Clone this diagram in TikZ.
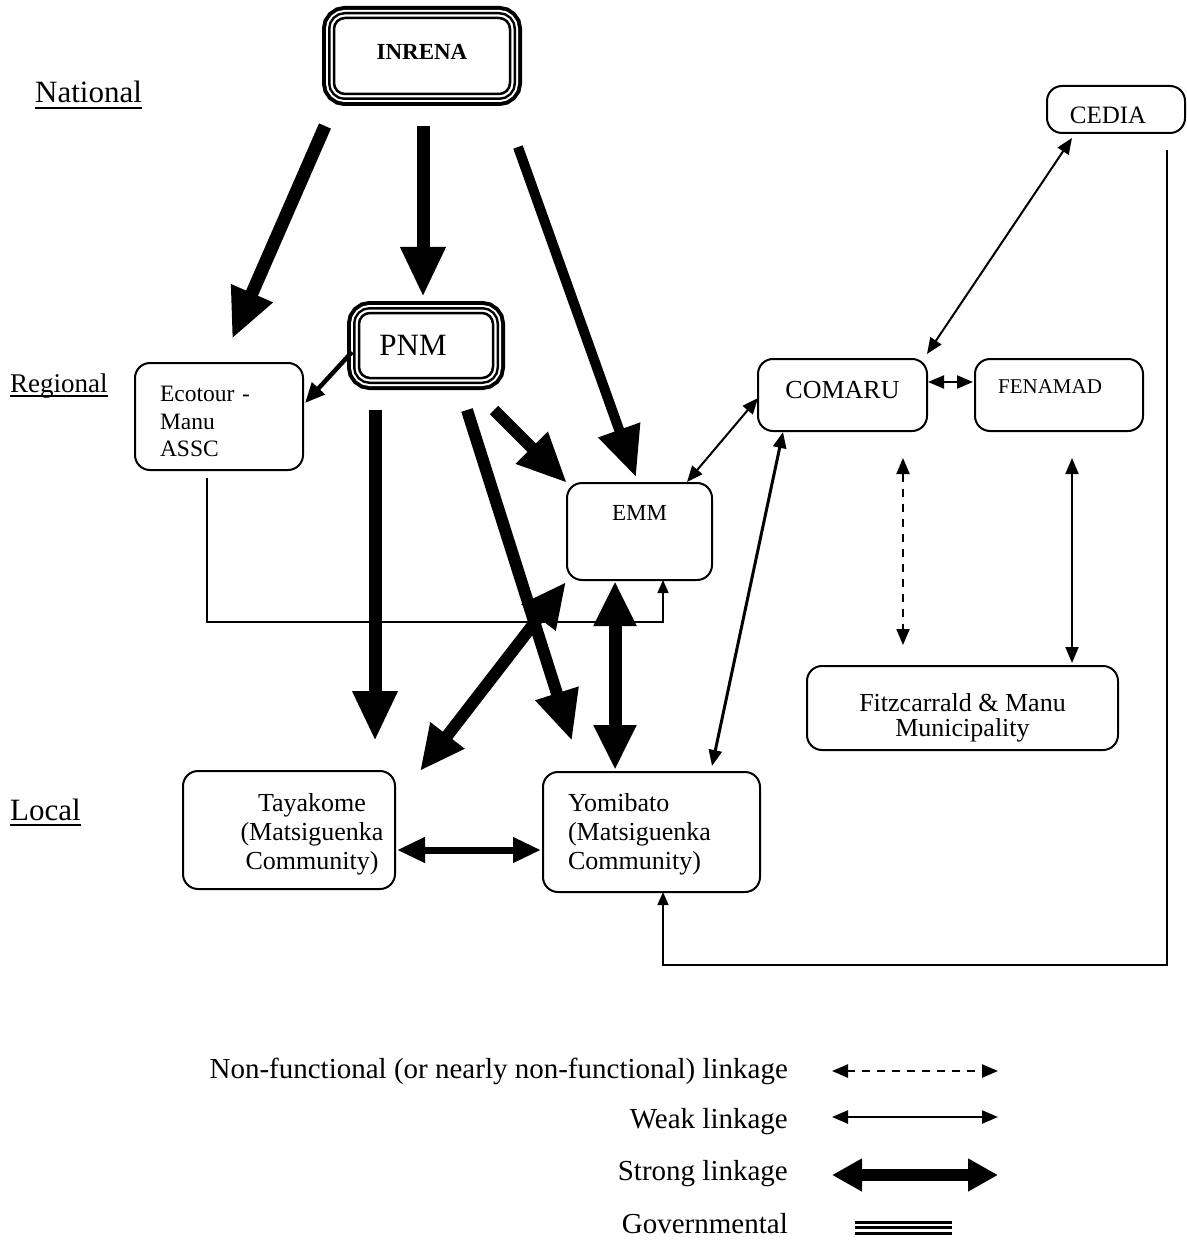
\documentclass[tikz,border=0pt]{standalone}
\usepackage{fontspec}
\setmainfont{Liberation Serif}
\usetikzlibrary{arrows.meta}

\begin{document}
\begin{tikzpicture}
  [x=1pt,y=-1pt,every node/.style={inner sep=0pt},
   orgbox/.style={draw,line width=2pt,rounded corners=15pt,fill=white,outer sep=0pt,
     font=\fontsize{26}{29}\selectfont},
   govbox/.style={draw,line width=2.5pt,rounded corners=11pt,fill=white,outer sep=12pt,
     preaction={draw,line width=24pt},preaction={draw,white,line width=16pt},
     preaction={draw,line width=12pt},preaction={draw,white,line width=7pt}},
   level/.style={anchor=base west,font=\fontsize{31}{34}\selectfont},
   legend/.style={anchor=base east,font=\fontsize{29}{32}\selectfont},
   strongarr/.style={line width=13pt,-{Triangle[length=50pt,width=42pt]}},
   strongdbl/.style={line width=13pt,{Triangle[length=45pt,width=40pt]}-{Triangle[length=45pt,width=40pt]}},
   medarr/.style={line width=4.5pt,-{Triangle[length=20pt,width=17pt]}},
   meddbl/.style={line width=7pt,{Triangle[length=28pt,width=24pt]}-{Triangle[length=28pt,width=24pt]}},
   weakdbl/.style={line width=2pt,{Triangle[length=16pt,width=13pt]}-{Triangle[length=16pt,width=13pt]}},
   nonfn/.style={weakdbl,dash pattern=on 8pt off 7pt},
   elbow/.style={line width=1.5pt,-{Triangle[length=13pt,width=11pt]}}]
  \useasboundingbox (0,0) rectangle (1186,1241);

  % levels
  \node[level] (national) at (35,103) {National};
  \node[level,font=\fontsize{27}{30}\selectfont] (regional) at (10,392) {Regional};
  \node[level] (local) at (10,820) {Local};
  \foreach \lv/\dn in {national/5,regional/4,local/5}
    \draw[line width=2pt] ([shift={(0,\dn)}]\lv.base west) -- ([shift={(0,\dn)}]\lv.base east);

  % organisations
  \node[govbox,minimum width=176pt,minimum height=76pt,text depth=8pt,
    font=\fontsize{23}{26}\selectfont\bfseries] (inrena) at (422,56) {INRENA};
  \node[govbox,minimum width=134pt,minimum height=65pt,
    font=\fontsize{31}{34}\selectfont] (pnm) at (426,345.5) {PNM\hspace*{26pt}};
  \node[orgbox,minimum width=168pt,minimum height=107pt,text width=118pt,inner xsep=25pt,
    align=left,font=\fontsize{23.5}{27.5}\selectfont] (ecotour) at (219,416.5)
    {\rule{0pt}{26pt}Ecotour -\\Manu\\ASSC};
  \node[orgbox,minimum width=145pt,minimum height=97pt,text depth=37pt,
    font=\fontsize{23}{26}\selectfont] (emm) at (639.5,531.5) {EMM};
  \node[orgbox,minimum width=138pt,minimum height=47pt,text height=28pt,text depth=0pt,
    font=\fontsize{25}{28}\selectfont] (cedia) at (1116,109.5) {CEDIA\hspace*{16pt}};
  \node[orgbox,minimum width=169pt,minimum height=72pt,text depth=10pt] (comaru) at (842.5,395) {COMARU};
  \node[orgbox,minimum width=168pt,minimum height=72pt,text depth=16pt,
    font=\fontsize{21}{24}\selectfont] (fenamad) at (1059,395) {FENAMAD\hspace*{18pt}};
  \node[orgbox,minimum width=311pt,minimum height=84pt,align=center,
    font=\fontsize{26}{25}\selectfont] (fitz) at (962.5,708)
    {\rule{0pt}{38pt}Fitzcarrald \& Manu\\Municipality};
  \node[orgbox,minimum width=212pt,minimum height=118pt] (tayakome) at (289,830)
    {\hspace*{46pt}\begin{tabular}{@{}c@{}}\rule{0pt}{30pt}Tayakome\\(Matsiguenka\\Community)\end{tabular}};
  \node[orgbox,minimum width=217pt,minimum height=120pt,text width=167pt,inner xsep=25pt,
    align=left] (yomibato) at (651.5,832) {\rule{0pt}{22pt}Yomibato\\(Matsiguenka\\Community)};

  % strong linkages
  \draw[strongarr] ([shift={(3,20)}]inrena.south west) -- ([shift={(97,-24)}]ecotour.north west);
  \draw[strongarr] ([shift={(1,20)}]inrena.south) -- ([shift={(-3,-4)}]pnm.north);
  \draw[strongarr,line width=10pt] ([shift={(-4,41)}]inrena.south east) -- ([shift={(-3.5,-6)}]emm.north);
  \draw[medarr] ([shift={(5,6.5)}]pnm.west) -- ([shift={(2,-13.5)}]ecotour.east);
  \draw[strongarr] ([shift={(28,20)}]pnm.south west) -- ([shift={(86,-30)}]tayakome.north);
  \draw[strongarr,line width=12pt] ([shift={(-11,20)}]pnm.south east) -- (emm.north west);
  \draw[strongarr,line width=12pt] ([shift={(-38,20)}]pnm.south east) -- ([shift={(29,-31)}]yomibato.north west);
  \draw[strongdbl,line width=12pt] ([shift={(-1,2)}]emm.south west) -- ([shift={(25,0)}]tayakome.north east);
  \draw[strongdbl] ([shift={(-24.5,1)}]emm.south) -- ([shift={(-36.5,-2)}]yomibato.north);
  \draw[meddbl] ([shift={(2,20)}]tayakome.east) -- ([shift={(-2,18)}]yomibato.west);

  % weak linkages
  \draw[weakdbl] ([shift={(-25,-1)}]emm.north east) -- ([shift={(0,3)}]comaru.west);
  \draw[weakdbl,line width=3pt] ([shift={(25,1)}]comaru.south west) -- ([shift={(-48,-6)}]yomibato.north east);
  \draw[weakdbl] ([shift={(0,-5)}]comaru.north east) -- ([shift={(25,5)}]cedia.south west);
  \draw[weakdbl] ([shift={(1,-13)}]comaru.east) -- ([shift={(-2,-13)}]fenamad.west);
  \draw[nonfn] ([shift={(60.5,27)}]comaru.south) -- ([shift={(-59.5,-21)}]fitz.north);
  \draw[weakdbl] ([shift={(13,27)}]fenamad.south) -- ([shift={(109.5,-3)}]fitz.north);
  \draw[elbow] ([shift={(-12,8)}]ecotour.south) -- ++(0,144) -| ([shift={(23.5,0)}]emm.south);
  \draw[elbow] ([shift={(-18,17)}]cedia.south east) -- ++(0,815) -| ([shift={(11.5,0)}]yomibato.south);

  % legend
  \node[legend] (lgnon) at (788,1078) {Non-functional (or nearly non-functional) linkage};
  \node[legend] (lgweak) at (788,1128) {Weak linkage};
  \node[legend] (lgstrong) at (788,1180) {Strong linkage};
  \node[legend] (lggov) at (788,1233) {Governmental};
  \draw[nonfn,line width=2.5pt] ([shift={(44,-7)}]lgnon.base east) -- ([shift={(210,-7)}]lgnon.base east);
  \draw[weakdbl,line width=2.5pt] ([shift={(44,-11)}]lgweak.base east) -- ([shift={(210,-11)}]lgweak.base east);
  \draw[line width=12pt,{Triangle[length=30pt,width=31pt]}-{Triangle[length=30pt,width=31pt]}]
    ([shift={(44,-5)}]lgstrong.base east) -- ([shift={(210,-5)}]lgstrong.base east);
  \foreach \dy in {-11,-5.5,0}
    \draw[line width=3pt] ([shift={(67,\dy)}]lggov.base east) -- ([shift={(164,\dy)}]lggov.base east);
\end{tikzpicture}
\end{document}
